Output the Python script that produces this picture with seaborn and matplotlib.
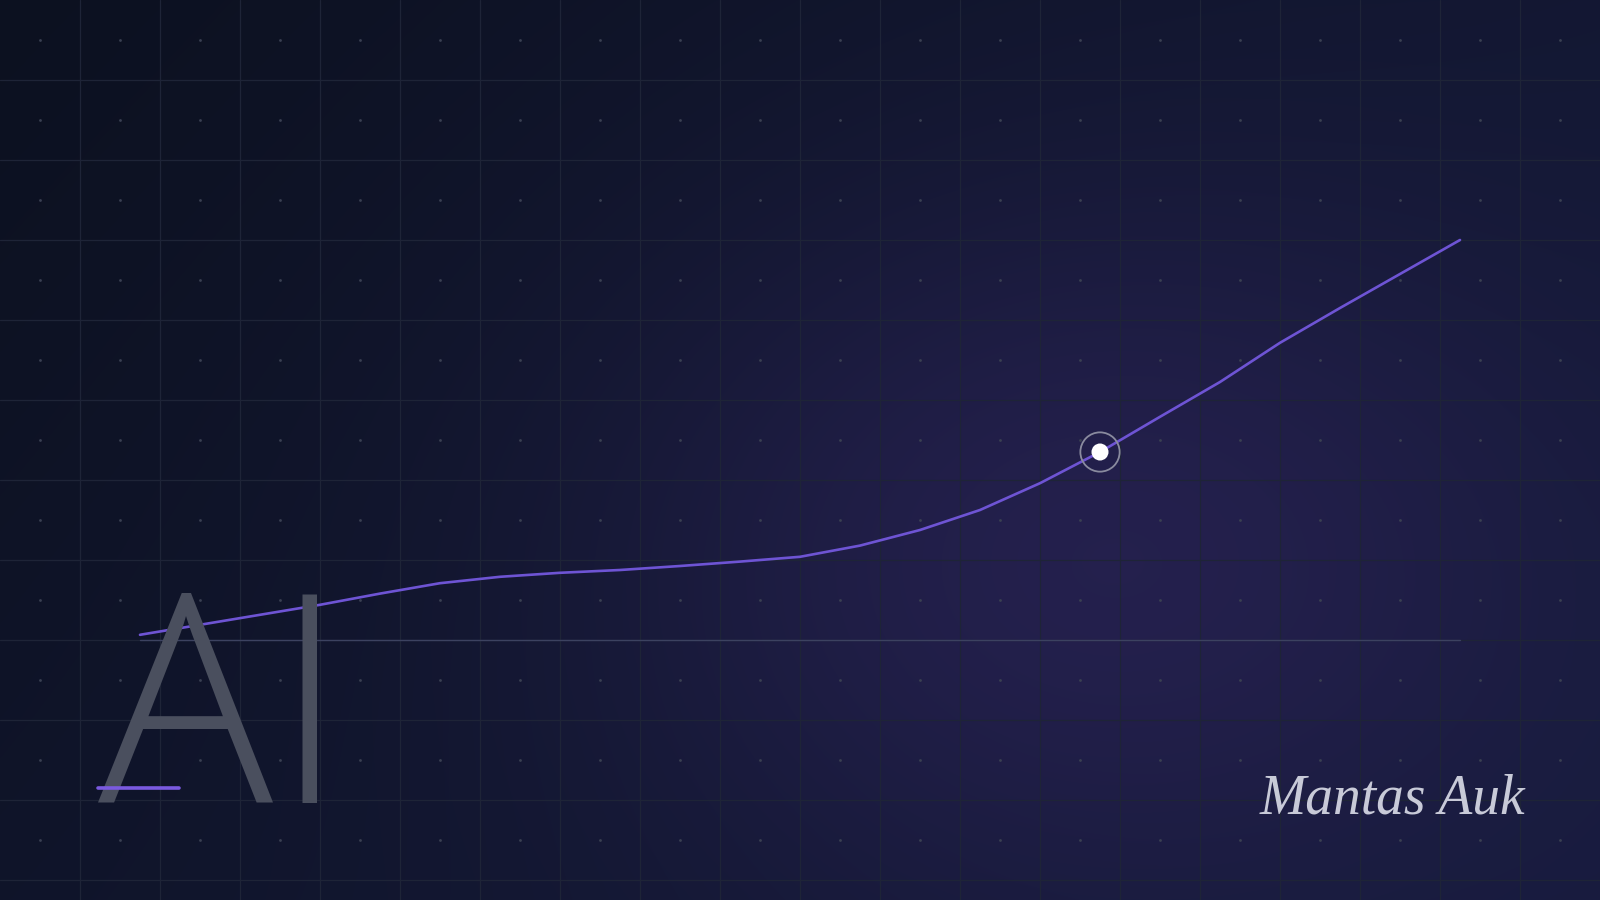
import numpy as np
import pandas as pd
import matplotlib
matplotlib.use("Agg")
import matplotlib.pyplot as plt
from matplotlib.lines import Line2D
import seaborn as sns

# ---- data ----
period = list(range(23))
value = [1.3, 3.8, 6.3, 8.8, 11.6, 14.2, 15.8, 16.8, 17.5, 18.5, 19.6, 20.8,
         23.6, 27.5, 32.5, 39.2, 47.0, 55.8, 64.5, 74.3, 83.0, 91.5, 100.0]
highlight_index = 16
title_text = "AI"
signature_text = "Mantas Auk"

sns.set_theme(style="white")
plt.rcParams['font.family'] = ['Open Sans', 'DejaVu Sans']

W, H, DPI = 1600, 900, 100
fig = plt.figure(figsize=(W / DPI, H / DPI), dpi=DPI)

# ---- background ----
bg = fig.add_axes([0, 0, 1, 1])
bg.set_xlim(0, W)
bg.set_ylim(H, 0)
bg.axis("off")
yy, xx = np.mgrid[0:H, 0:W]
c0 = np.array([0x0c, 0x11, 0x20]) / 255
c1 = np.array([0x16, 0x1b, 0x3c]) / 255
glow = np.array([0x26, 0x21, 0x50]) / 255
t = np.clip(0.65 * xx / W + 0.35 * yy / H, 0, 1)[..., None]
base = c0 + (c1 - c0) * t
d2 = ((xx - 1110) / 560.0) ** 2 + ((yy - 560) / 420.0) ** 2
w = np.exp(-d2 * 1.3)[..., None] * 0.9
img = base + (glow - base) * w
bg.imshow(img, extent=[0, W, H, 0], aspect="auto", zorder=0)

grid_col = "#1e2437"
for gx in np.arange(80, W, 80):
    bg.axvline(gx, color=grid_col, lw=0.9, zorder=1)
for gy in np.arange(80, H, 80):
    bg.axhline(gy, color=grid_col, lw=0.9, zorder=1)
dx, dy = np.meshgrid(np.arange(40, W, 80), np.arange(40, H, 80))
bg.scatter(dx.ravel(), dy.ravel(), s=4, color="#3a4052", linewidths=0, zorder=2)

# baseline
bg.plot([140, 1460], [640, 640], color="#3c4260", lw=1.0, zorder=2)

# ---- chart ----
ax = fig.add_axes([140 / W, (H - 640) / H, 1320 / W, 400 / H])
ax.set_xlim(0, 22)
ax.set_ylim(0, 100)
ax.patch.set_alpha(0)
ax.axis("off")
df = pd.DataFrame({"period": period, "value": value})
sns.lineplot(data=df, x="period", y="value", ax=ax, color="#6e54d4", lw=1.9,
             clip_on=False, zorder=3)
hx, hy = period[highlight_index], value[highlight_index]
ax.scatter([hx], [hy], s=800, facecolor="none", edgecolor="#8a8b9f", linewidths=1.3,
           zorder=4, clip_on=False)
sns.scatterplot(x=[hx], y=[hy], ax=ax, s=150, color="white", edgecolor="none",
                zorder=5, clip_on=False)

# ---- decorations ----
fig.text(98 / W, 1 - 803 / H, title_text, color="#4a4f5e", fontsize=210,
         fontweight=300, ha="left", va="baseline", family=["Open Sans", "DejaVu Sans"],
         zorder=3)
fig.add_artist(Line2D([98 / W, 179 / W], [1 - 788 / H, 1 - 788 / H],
                      color="#7a5ae0", lw=2.6, transform=fig.transFigure, zorder=6))
fig.text(1392 / W, 1 - 800 / H, signature_text, color="#c8cad8", fontsize=40,
         style="italic", ha="center", va="center", family=["Liberation Serif"])

fig.savefig("out.png", dpi=DPI)
